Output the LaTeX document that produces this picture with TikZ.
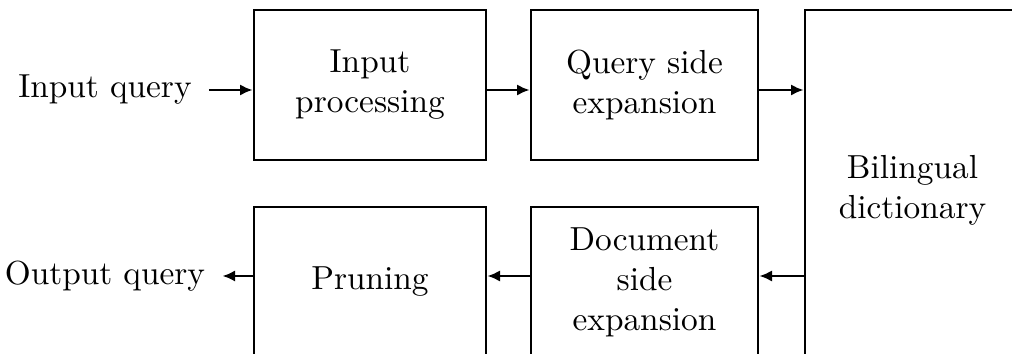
\documentclass[tikz,border=0pt]{standalone}
\usetikzlibrary{arrows.meta}
\begin{document}
\begin{tikzpicture}[x=0.3pt,y=-0.3pt,
  blk/.style={draw,line width=0.8pt,rectangle,align=center,inner sep=0pt},
  lbl/.style={inner xsep=5pt,inner ysep=0pt},
  arr/.style={line width=0.8pt,-{Latex[length=3.8pt,width=3.4pt]}}]
\useasboundingbox (0,0) rectangle (1012,354);
\clip (0,0) rectangle (1012,354);
\node[blk,minimum width=69.6pt,minimum height=45pt] (ip) at (370,85) {Input\\processing};
\node[blk,minimum width=68.1pt,minimum height=45pt] (qs) at (644.5,85) {Query side\\expansion};
\node[blk,minimum width=64.5pt,minimum height=108pt] (bd) at (912.5,190) {Bilingual\\dictionary};
\node[blk,minimum width=69.6pt,minimum height=45pt] (pr) at (370,282) {Pruning};
\node[blk,minimum width=68.1pt,minimum height=45pt] (ds) at (644.5,282) {Document\\side\\expansion};
\node[lbl] (inq) at (105,90) {Input query};
\node[lbl] (outq) at (105,276) {Output query};
\draw[arr] (inq.east) -- (ip.west |- inq.east);
\draw[arr] (ip.east |- inq.east) -- (qs.west |- inq.east);
\draw[arr] (qs.east |- inq.east) -- (bd.west |- inq.east);
\draw[arr] (bd.west |- outq.east) -- (ds.east |- outq.east);
\draw[arr] (ds.west |- outq.east) -- (pr.east |- outq.east);
\draw[arr] (pr.west |- outq.east) -- (outq.east);
\end{tikzpicture}
\end{document}
